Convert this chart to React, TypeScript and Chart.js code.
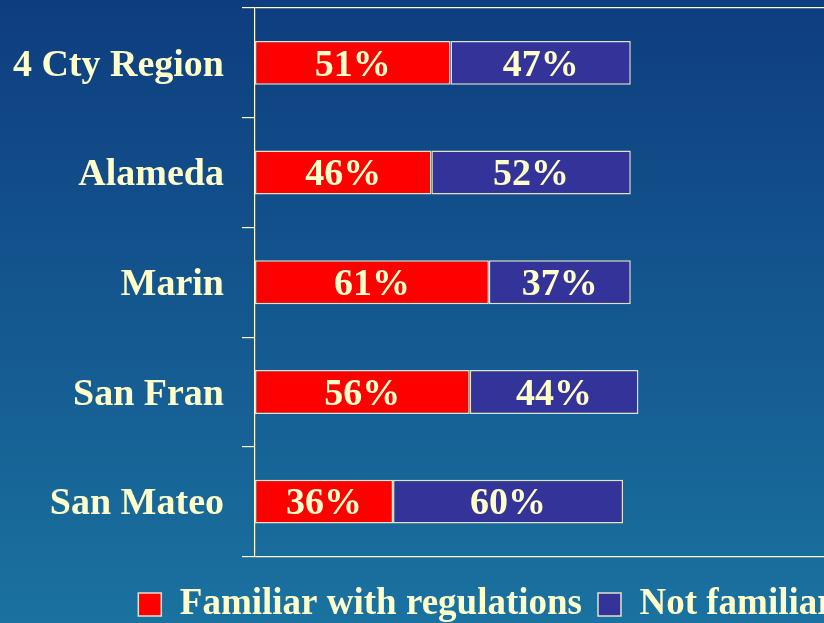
import React, { useEffect, useRef } from 'react';
import { Chart, registerables } from 'chart.js';
Chart.register(...registerables);

const categories = ['4 Cty Region', 'Alameda', 'Marin', 'San Fran', 'San Mateo'];
const familiar = [51, 46, 61, 56, 36];
const notFamiliar = [47, 52, 37, 44, 60];
const seriesNames = ['Familiar with regulations', 'Not familiar'];

const CREAM = '#FFFFCC';
const BAR_BORDER = '#E2E2C8';
const FONT = "'Liberation Serif', 'Times New Roman', serif";
const CANVAS_W = 972;
const CANVAS_H = 633;

const bgPlugin = {
  id: 'bgGradient',
  beforeDraw(chart: any) {
    const { ctx, width, height } = chart;
    const g = ctx.createLinearGradient(0, 0, 0, 623);
    g.addColorStop(0, '#0E3D7F');
    g.addColorStop(1, '#1A72A0');
    ctx.save();
    ctx.fillStyle = g;
    ctx.fillRect(0, 0, width, height);
    ctx.restore();
  },
};

const valueLabelPlugin = {
  id: 'valueLabels',
  afterDatasetsDraw(chart: any) {
    const ctx = chart.ctx;
    ctx.save();
    ctx.font = `bold 38px ${FONT}`;
    ctx.fillStyle = CREAM;
    ctx.textAlign = 'center';
    ctx.textBaseline = 'middle';
    chart.data.datasets.forEach((ds: any, di: number) => {
      const meta = chart.getDatasetMeta(di);
      meta.data.forEach((bar: any, i: number) => {
        const { x, base, y } = bar.getProps(['x', 'base', 'y'], true);
        ctx.fillText(ds.data[i] + '%', (x + base) / 2, y + 3);
      });
    });
    ctx.restore();
  },
};

export default function App() {
  const ref = useRef<HTMLCanvasElement | null>(null);
  useEffect(() => {
    if (!ref.current) return;
    const chart = new Chart(ref.current, {
      type: 'bar',
      data: {
        labels: categories,
        datasets: [
          {
            label: seriesNames[0],
            data: familiar,
            backgroundColor: '#FF0000',
            borderColor: BAR_BORDER,
            borderWidth: 1.5,
            borderSkipped: false,
          },
          {
            label: seriesNames[1],
            data: notFamiliar,
            backgroundColor: '#333399',
            borderColor: BAR_BORDER,
            borderWidth: 1.5,
            borderSkipped: false,
          },
        ],
      },
      options: {
        indexAxis: 'y',
        responsive: false,
        devicePixelRatio: 1,
        animation: false,
        layout: { padding: { top: 8, left: 0, right: 0, bottom: 0 } },
        datasets: { bar: { barPercentage: 0.4, categoryPercentage: 1 } },
        scales: {
          x: {
            stacked: true,
            min: 0,
            max: 187,
            display: true,
            ticks: { display: false },
            grid: { display: false },
            border: { display: false },
            afterFit: (scale: any) => {
              scale.height = 13.5;
              scale.paddingLeft = 0;
              scale.paddingRight = 0;
            },
          },
          y: {
            stacked: true,
            grid: {
              offset: true,
              color: (ctx: any) =>
                ctx.index === undefined || ctx.index === 0 ? CREAM : 'rgba(0,0,0,0)',
              tickColor: CREAM,
              tickLength: 13,
              lineWidth: 1.2,
            },
            border: { display: true, color: CREAM, width: 1.2 },
            ticks: {
              color: CREAM,
              padding: 18,
              labelOffset: 3,
              font: { family: FONT, size: 38, weight: 'bold' },
            },
            afterFit: (scale: any) => {
              scale.width = 255;
              scale.paddingTop = 0;
              scale.paddingBottom = 0;
            },
          },
        },
        plugins: {
          tooltip: { enabled: false },
          legend: {
            position: 'bottom',
            labels: {
              color: CREAM,
              boxWidth: 23,
              boxHeight: 23,
              padding: 16,
              font: { family: FONT, size: 37, weight: 'bold', lineHeight: 1 },
            },
          },
        },
      },
      plugins: [bgPlugin, valueLabelPlugin],
    } as any);
    return () => chart.destroy();
  }, []);

  return (
    <div
      style={{
        position: 'absolute',
        left: 0,
        top: 0,
        width: 824,
        height: 623,
        overflow: 'hidden',
      }}
    >
      <canvas ref={ref} width={CANVAS_W} height={CANVAS_H} style={{ display: 'block' }} />
    </div>
  );
}
